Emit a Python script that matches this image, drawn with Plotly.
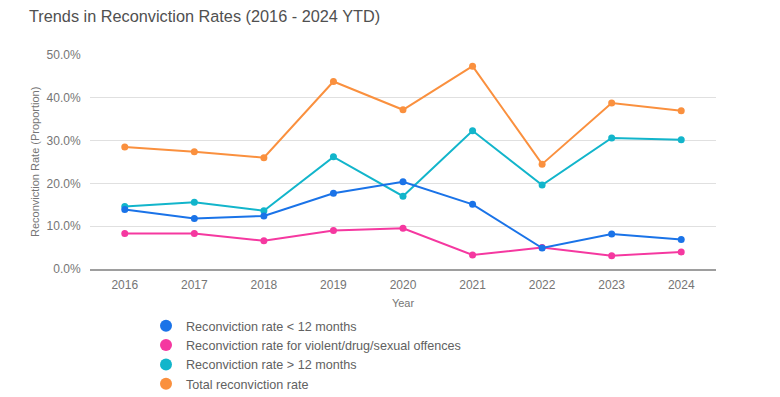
import plotly.graph_objects as go

years = ["2016", "2017", "2018", "2019", "2020", "2021", "2022", "2023", "2024"]
under_12 = [0.139, 0.118, 0.124, 0.177, 0.204, 0.151, 0.049, 0.082, 0.069]
violent = [0.083, 0.083, 0.066, 0.090, 0.095, 0.033, 0.050, 0.031, 0.040]
over_12 = [0.146, 0.156, 0.136, 0.262, 0.170, 0.323, 0.196, 0.306, 0.302]
total = [0.285, 0.274, 0.260, 0.438, 0.372, 0.474, 0.245, 0.388, 0.370]

names = [
    "Reconviction rate < 12 months",
    "Reconviction rate for violent/drug/sexual offences",
    "Reconviction rate > 12 months",
    "Total reconviction rate",
]
series = [under_12, violent, over_12, total]
colors = ["#1a73e8", "#f538a0", "#12b5cb", "#fa903e"]

fig = go.Figure()
for name, vals, col in reversed(list(zip(names, series, colors))):
    fig.add_trace(go.Scatter(
        x=years, y=vals, mode="lines+markers", name=name, showlegend=False,
        line=dict(color=col, width=2), marker=dict(color=col, size=7),
        hovertemplate="%{x}: %{y:.1%}<extra>" + name + "</extra>",
    ))
for name, col in zip(names, colors):
    fig.add_trace(go.Scatter(
        x=[None], y=[None], mode="markers", name=name,
        marker=dict(color=col, size=12),
    ))

font = "Liberation Sans, Arial, sans-serif"
fig.update_layout(
    width=780, height=397,
    margin=dict(l=90, r=64, t=55, b=128, autoexpand=False),
    paper_bgcolor="white", plot_bgcolor="white",
    font=dict(family=font, size=12, color="#757575"),
    title=dict(text="Trends in Reconviction Rates (2016 - 2024 YTD)",
               xref="container", x=29 / 780, xanchor="left",
               yref="container", y=1 - 16 / 397, yanchor="middle",
               pad=dict(l=0, t=0, b=0, r=0),
               font=dict(family=font, size=16.3, color="#505050")),
    legend=dict(orientation="v", xref="container", x=146 / 780, xanchor="left",
                yref="container", y=1 - 311 / 397, yanchor="top",
                font=dict(family=font, size=12.6, color="#616161"),
                traceorder="normal", tracegroupgap=0, itemclick=False),
    showlegend=True,
    hovermode="closest",
    annotations=[dict(
        text="Reconviction Rate (Proportion)", textangle=-90,
        xref="paper", x=(35 - 90) / 626, xanchor="center",
        yref="paper", y=0.5, yanchor="middle", showarrow=False,
        font=dict(family=font, size=11, color="#757575"),
    )],
)

fig.update_xaxes(
    type="category", range=[-0.5, 8.5],
    showgrid=False, showline=True, linecolor="#9e9e9e", linewidth=2,
    ticks="outside", ticklen=4, tickcolor="rgba(0,0,0,0)",
    tickfont=dict(size=12, color="#757575"),
    title=dict(text="Year", font=dict(size=11, color="#757575"), standoff=8),
    zeroline=False, fixedrange=True,
)
fig.update_yaxes(
    range=[0, 0.5], dtick=0.1, tickformat=".1%",
    showgrid=True, gridcolor="#e0e0e0", gridwidth=1,
    zeroline=False, showline=False,
    ticks="outside", ticklen=6, tickcolor="rgba(0,0,0,0)",
    tickfont=dict(size=12, color="#757575"),
    fixedrange=True,
)

fig.write_html("out.html", config={"displayModeBar": False},
               post_script="document.body.style.margin='0';document.body.style.padding='0';")
